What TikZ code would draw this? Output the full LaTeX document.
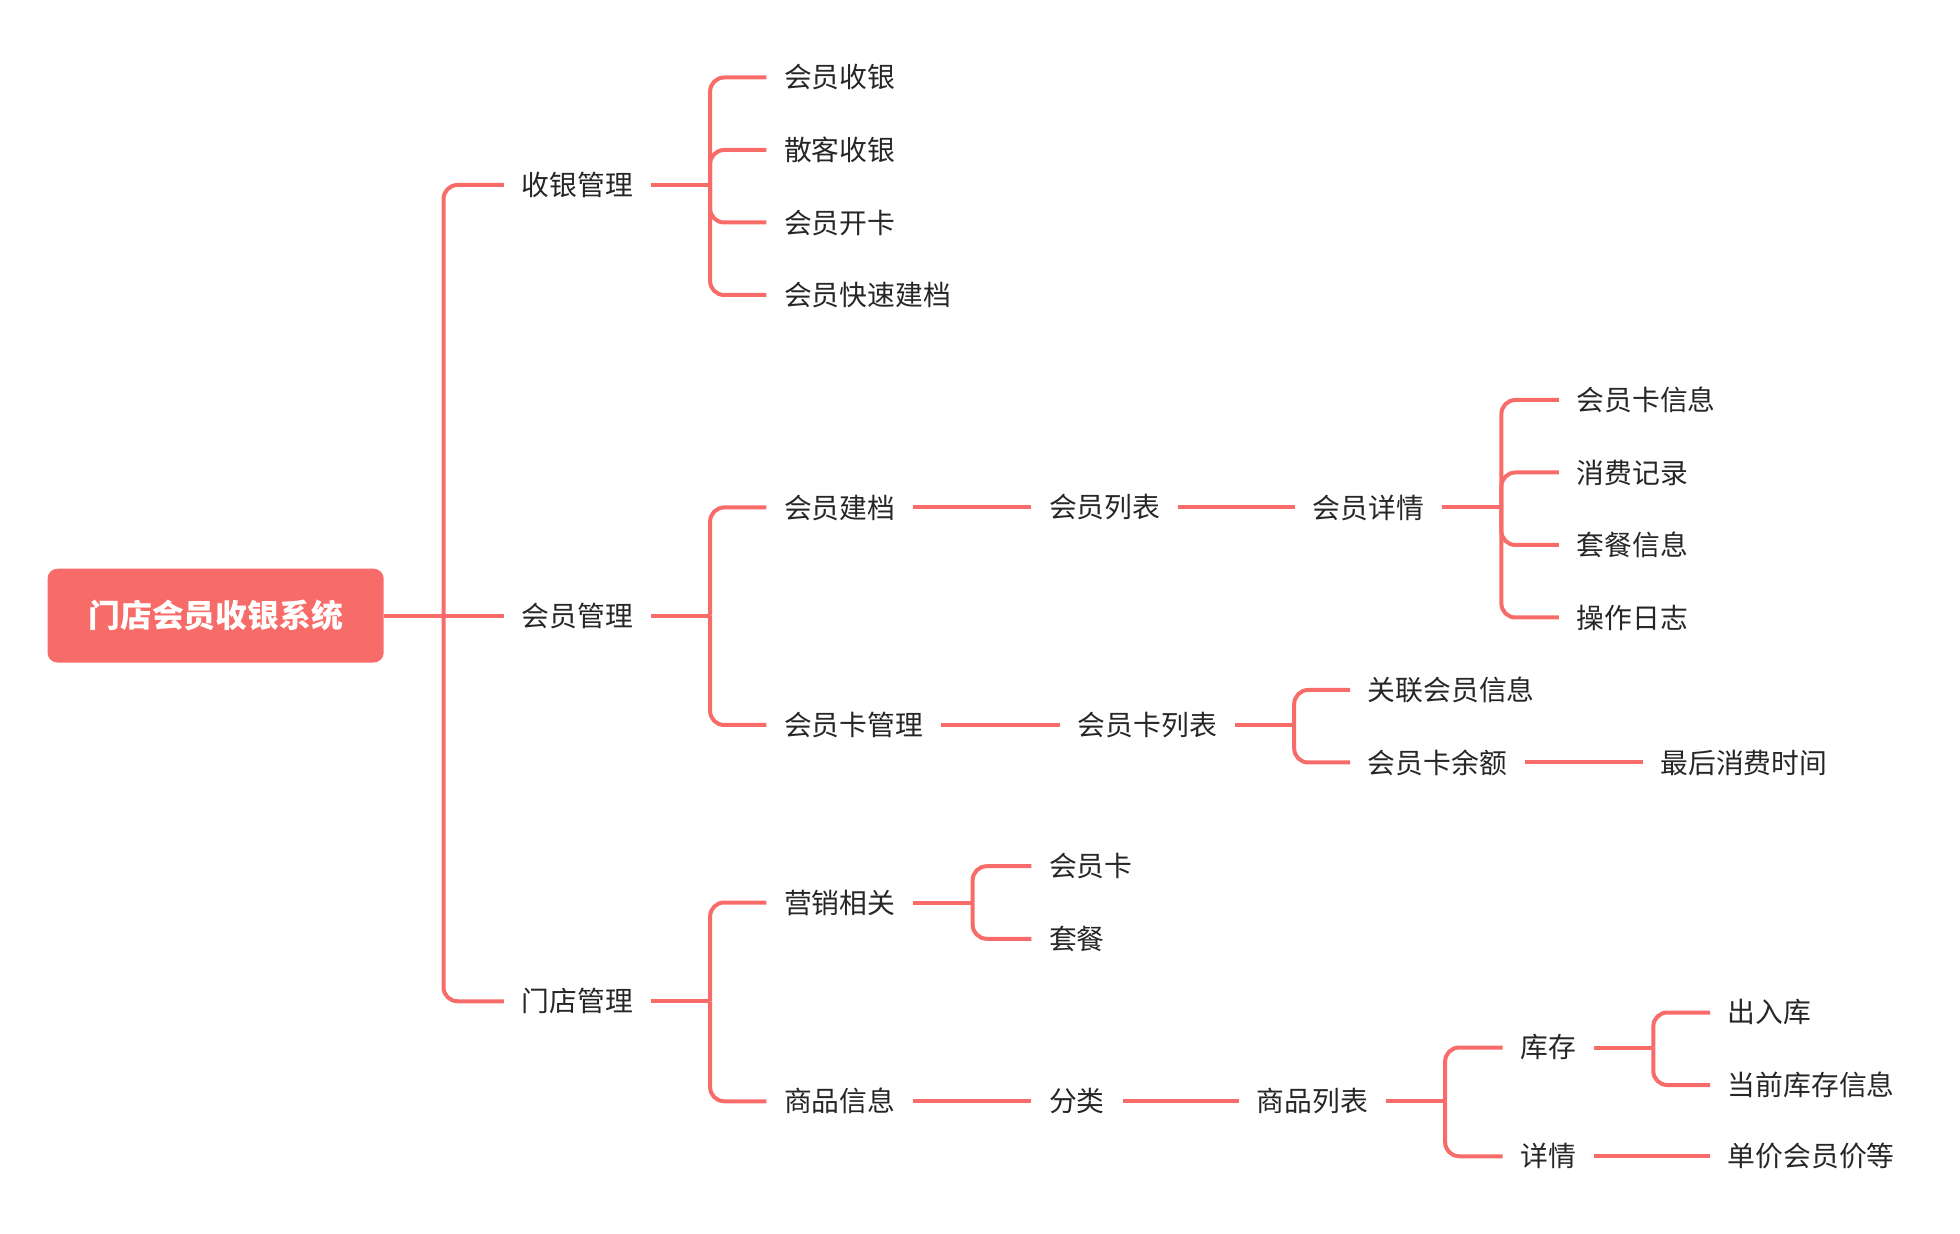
\documentclass[tikz,border=0pt]{standalone}
\usepackage{fontspec}
\setmainfont{Noto Sans CJK SC}
\definecolor{branchred}{RGB}{247,108,104}
\definecolor{labelgray}{RGB}{38,38,38}
\tikzset{
  topic/.style={anchor=west, inner xsep=8.75pt, inner ysep=3pt, text=labelgray,
    font=\fontsize{13.9pt}{16pt}\selectfont},
  central/.style={fill=branchred, rounded corners=5pt, minimum width=168.1pt,
    minimum height=46.9pt, text=white, font=\fontsize{15.9pt}{18pt}\selectfont\bfseries},
  branch/.style={draw=branchred, line width=2pt, rounded corners=7pt}
}
\begin{document}
\begin{tikzpicture}[x=0.625pt, y=-0.625pt]
      \useasboundingbox (0,0) rectangle (1568,987.2);
      \node[central] (xt) at (172.5,492.5) {门店会员收银系统};
      \path[every node/.style={topic}]
        (403,148) node (syg){收银管理}
        (403,492.5) node (hyg){会员管理}
        (403,801) node (mdg){门店管理}
        (613,62) node (hysy){会员收银}
        (613,120) node (sksy){散客收银}
        (613,178) node (hykk){会员开卡}
        (613,236) node (ksjd){会员快速建档}
        (613,406) node (hyjd){会员建档}
        (613,580) node (hykg){会员卡管理}
        (613,722) node (yxxg){营销相关}
        (613,881) node (spxx){商品信息}
        (825,406) node (hylb){会员列表}
        (1036,406) node (hyxq){会员详情}
        (1247,320) node (kxx){会员卡信息}
        (1247,378) node (xfjl){消费记录}
        (1247,436) node (tcxx){套餐信息}
        (1247,494) node (czrz){操作日志}
        (848,580) node (hyklb){会员卡列表}
        (1080,552) node (glxx){关联会员信息}
        (1080,610) node (kye){会员卡余额}
        (1314,610) node (zhxf){最后消费时间}
        (825,693) node (hyk){会员卡}
        (825,751) node (tc){套餐}
        (825,881) node (fl){分类}
        (991,881) node (splb){商品列表}
        (1202,838) node (kc){库存}
        (1202,925) node (xq){详情}
        (1368,810) node (crk){出入库}
        (1368,868) node (dqkc){当前库存信息}
        (1368,925) node (djhy){单价会员价等};
      % bracket points
      \path (xt.east) ++(47.5,0) coordinate (xtb);
      \path (syg.east) ++(47.5,0) coordinate (sygb);
      \path (hyg.east) ++(47.5,0) coordinate (hygb);
      \path (mdg.east) ++(47.5,0) coordinate (mdgb);
      \path (hyxq.east) ++(47.5,0) coordinate (hyxqb);
      \path (hyklb.east) ++(47.5,0) coordinate (hyklbb);
      \path (yxxg.east) ++(47.5,0) coordinate (yxxgb);
      \path (splb.east) ++(47.5,0) coordinate (splbb);
      \path (kc.east) ++(47.5,0) coordinate (kcb);
      \begin{scope}[branch]
        \draw (xt.east) to (hyg.west);
        \draw (xtb) |- (syg.west);
        \draw (xtb) |- (mdg.west);
        \draw (syg.east) to (sygb);
        \draw (sygb) |- (hysy.west);
        \draw (sygb) |- (sksy.west);
        \draw (sygb) |- (hykk.west);
        \draw (sygb) |- (ksjd.west);
        \draw (hyg.east) to (hygb);
        \draw (hygb) |- (hyjd.west);
        \draw (hygb) |- (hykg.west);
        \draw (mdg.east) to (mdgb);
        \draw (mdgb) |- (yxxg.west);
        \draw (mdgb) |- (spxx.west);
        \draw (hyjd) to (hylb);
        \draw (hylb) to (hyxq);
        \draw (hyxq.east) to (hyxqb);
        \draw (hyxqb) |- (kxx.west);
        \draw (hyxqb) |- (xfjl.west);
        \draw (hyxqb) |- (tcxx.west);
        \draw (hyxqb) |- (czrz.west);
        \draw (hykg) to (hyklb);
        \draw (hyklb.east) to (hyklbb);
        \draw (hyklbb) |- (glxx.west);
        \draw (hyklbb) |- (kye.west);
        \draw (kye) to (zhxf);
        \draw (yxxg.east) to (yxxgb);
        \draw (yxxgb) |- (hyk.west);
        \draw (yxxgb) |- (tc.west);
        \draw (spxx) to (fl);
        \draw (fl) to (splb);
        \draw (splb.east) to (splbb);
        \draw (splbb) |- (kc.west);
        \draw (splbb) |- (xq.west);
        \draw (kc.east) to (kcb);
        \draw (kcb) |- (crk.west);
        \draw (kcb) |- (dqkc.west);
        \draw (xq) to (djhy);
      \end{scope}
\end{tikzpicture}
\end{document}
